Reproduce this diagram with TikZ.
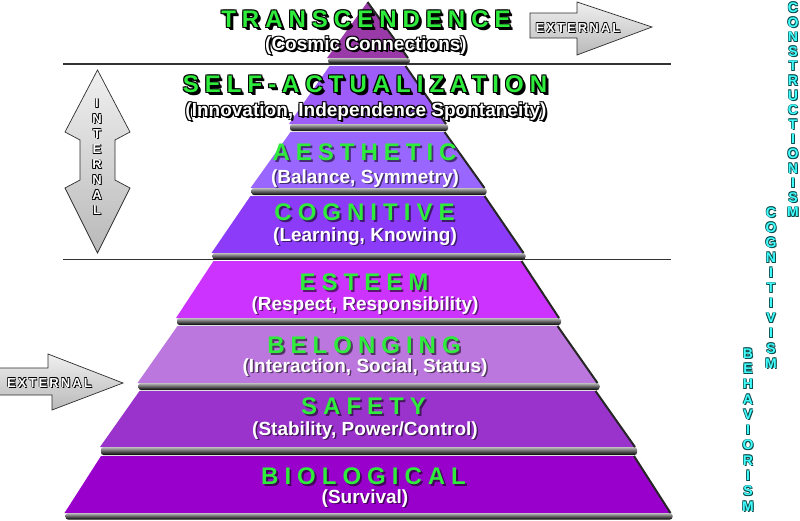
\documentclass[tikz,border=0pt]{standalone}
\usepackage{fontspec}
\setmainfont{Liberation Sans}
\newfontfamily\titlefont{Liberation Sans}[LetterSpace=25]
\newfontfamily\extfont{Liberation Sans}[LetterSpace=16]
\definecolor{cT}{HTML}{9A3AA8}
\definecolor{cSA}{HTML}{9E5CF8}
\definecolor{cAE}{HTML}{9966FF}
\definecolor{cCO}{HTML}{8C3CF8}
\definecolor{cES}{HTML}{CC33FF}
\definecolor{cBE}{HTML}{BB77DD}
\definecolor{cSF}{HTML}{9933CC}
\definecolor{cBI}{HTML}{9900CC}
\definecolor{tgreen}{HTML}{2EEB3C}
\definecolor{cyanT}{HTML}{40FFFF}
\definecolor{cyanO}{HTML}{0A4A4A}
\definecolor{lineC}{HTML}{333333}
% text with a drop shadow
\newcommand\dropsh[3]{\rlap{\kern#1\raisebox{-#1}{\color{#2}#3}}#3}
% text with an outline and a drop shadow
\newcommand\outl[3]{%
\rlap{\kern#2\raisebox{-#2}{\color{#1}#3}}%
\rlap{\kern1pt\raisebox{1pt}{\color{#1}#3}}%
\rlap{\kern-1pt\raisebox{1pt}{\color{#1}#3}}%
\rlap{\kern1pt\raisebox{-1pt}{\color{#1}#3}}%
\rlap{\kern-1pt\raisebox{-1pt}{\color{#1}#3}}%
#3}
\newcommand\outlbig[2]{%
\rlap{\kern3pt\raisebox{-3.5pt}{\color{#1}#2}}%
\rlap{\kern2pt\raisebox{-2.5pt}{\color{#1}#2}}%
\outl{#1}{1.5pt}{#2}}
\newcommand\outlthin[2]{%
\rlap{\kern1pt\raisebox{-1pt}{\color{#1}#2}}%
\rlap{\kern0.6pt\raisebox{0.6pt}{\color{#1}#2}}%
\rlap{\kern-0.6pt\raisebox{0.6pt}{\color{#1}#2}}%
\rlap{\kern-0.6pt\raisebox{-0.6pt}{\color{#1}#2}}%
#2}
\ExplSyntaxOn
\NewDocumentCommand\vword{ m m }
 {
  \seq_clear:N \l_tmpa_seq
  \tl_map_inline:nn {#2} { \seq_put_right:Nn \l_tmpa_seq { \outlthin{#1}{##1} } }
  \seq_use:Nn \l_tmpa_seq { \\ }
 }
\ExplSyntaxOff
% pyramid layer: color, ytop, half-width top, ybottom, half-width bottom, bar bottom
\newcommand\layer[6]{%
 \fill[#1] (367.5-#3,#2) -- (367.5+#3,#2) -- (367.5+#5,#4) -- (367.5-#5,#4) -- cycle;
 \shade[top color=gray!50, bottom color=black, rounded corners=2.5pt]
   (368.5-#5,#4) rectangle (369.5+#5,#6);
 \draw[line width=2pt, black!85] (367.5+#3,#2) -- (367.5+#5,#4);
}
\tikzset{
 ttl/.style={anchor=base, inner sep=0pt, text=tgreen,
   font={\titlefont\bfseries\fontsize{24}{24}\selectfont}},
 sub/.style={anchor=base, inner sep=0pt, text=white,
   font={\bfseries\fontsize{19}{19}\selectfont}},
 exttext/.style={anchor=base, inner sep=0pt, text=white,
   font={\extfont\bfseries\fontsize{13}{13}\selectfont}},
 arrowshape/.style={top color=gray!12, bottom color=gray!55,
   draw=gray!35!black, line width=0.7pt},
 vtxt/.style={inner sep=0pt, align=center},
}
\begin{document}
\begin{tikzpicture}[x=1pt,y=-1pt]
\useasboundingbox (0,0) rectangle (800,520);
\fill[white] (0,0) rectangle (800,520);
% divider lines
\coordinate (l1a) at (63,64); \coordinate (l1b) at (671,64);
\coordinate (l2a) at (63,259.5); \coordinate (l2b) at (671,259.5);
\draw[line width=1.6pt, lineC] (l1a) -- (l1b);
\draw[line width=1.6pt, lineC] (l2a) -- (l2b);
% pyramid
\layer{cT}{2}{0}{58}{40.5}{63.5}
\layer{cSA}{66}{38}{124}{78.5}{131}
\layer{cAE}{132}{77}{188}{117}{195}
\layer{cCO}{196}{117}{253}{156}{259.5}
\layer{cES}{261}{154}{318}{191.5}{325}
\layer{cBE}{326}{190}{383}{230}{390}
\layer{cSF}{391}{228}{447}{267.5}{455}
\layer{cBI}{456}{266.5}{513}{303}{519.5}
% texts
\node[ttl] (tT) at (366,27) {\outlbig{black}{TRANSCENDENCE}};
\node[sub] (sT) at (366,50) {\outl{black}{2pt}{(Cosmic Connections)}};
\node[ttl] (tSA) at (365,92) {\outlbig{black}{SELF-ACTUALIZATION}};
\node[sub] (sSA) at (366,116) {\outl{black}{2pt}{(Innovation, Independence Spontaneity)}};
\node[ttl] (tAE) at (364.5,160) {\dropsh{2pt}{cAE!45!black}{AESTHETIC}};
\node[sub] (sAE) at (365,183) {\dropsh{1.5pt}{cAE!45!black}{(Balance, Symmetry)}};
\node[ttl] (tCO) at (364.5,220) {\dropsh{2pt}{cCO!45!black}{COGNITIVE}};
\node[sub] (sCO) at (365,241) {\dropsh{1.5pt}{cCO!45!black}{(Learning, Knowing)}};
\node[ttl] (tES) at (364,290) {\dropsh{2pt}{cES!45!black}{ESTEEM}};
\node[sub] (sES) at (365,310) {\dropsh{1.5pt}{cES!45!black}{(Respect, Responsibility)}};
\node[ttl] (tBE) at (364,353) {\dropsh{2pt}{cBE!45!black}{BELONGING}};
\node[sub] (sBE) at (365,372) {\dropsh{1.5pt}{cBE!45!black}{(Interaction, Social, Status)}};
\node[ttl] (tSF) at (363.5,414.5) {\dropsh{2pt}{cSF!45!black}{SAFETY}};
\node[sub] (sSF) at (365,435) {\dropsh{1.5pt}{cSF!45!black}{(Stability, Power/Control)}};
\node[ttl] (tBI) at (363.5,484) {\dropsh{2pt}{cBI!45!black}{BIOLOGICAL}};
\node[sub] (sBI) at (365,503) {\dropsh{1.5pt}{cBI!45!black}{(Survival)}};
% EXTERNAL arrow, top right
\shade[arrowshape] (530,13) -- (577,13) -- (577,2) -- (652,27) -- (577,55) -- (577,38) -- (530,38) -- cycle;
\node[exttext] (eTop) at (578,32) {\outlthin{black}{EXTERNAL}};
% EXTERNAL arrow, left
\shade[arrowshape] (-2,368) -- (48,368) -- (48,354) -- (123,383) -- (52,410) -- (52,395) -- (-2,395) -- cycle;
\node[exttext] (eLeft) at (49.5,387) {\outlthin{black}{EXTERNAL}};
% INTERNAL double arrow
\shade[arrowshape] (97.5,70) -- (130,132) -- (115,140) -- (115,180) -- (130,188) -- (97.5,253)
  -- (65,188) -- (80,180) -- (80,140) -- (65,132) -- cycle;
\node[vtxt, text=white, font={\bfseries\fontsize{13}{15.3}\selectfont}] (iInt) at (97,157)
  {\vword{black}{INTERNAL}};
% learning theories
\node[vtxt, text=cyanT, font={\bfseries\fontsize{14}{14.6}\selectfont}] (vCon) at (793,110)
  {\vword{cyanO}{CONSTRUCTIONISM}};
\node[vtxt, text=cyanT, font={\bfseries\fontsize{14}{15.1}\selectfont}] (vCog) at (771,288)
  {\vword{cyanO}{COGNITIVISM}};
\node[vtxt, text=cyanT, font={\bfseries\fontsize{14}{15.3}\selectfont}] (vBeh) at (748,430)
  {\vword{cyanO}{BEHAVIORISM}};
\end{tikzpicture}
\end{document}
